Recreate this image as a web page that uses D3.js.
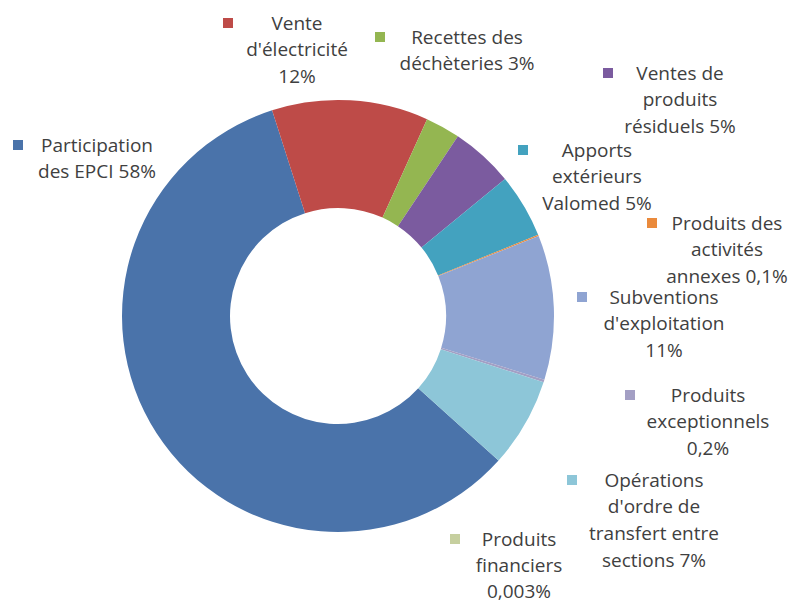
<!DOCTYPE html>
<html>
<head>
<meta charset="utf-8">
<script src="https://cdn.jsdelivr.net/npm/d3@7"></script>
<style>
  html, body { margin: 0; padding: 0; background: #ffffff; }
  svg { display: block; }
</style>
</head>
<body>
<svg id="chart" width="790" height="605"></svg>
<script>
// ---- Data (clockwise order, first slice = Participation des EPCI) ----
const categories = [
  "Participation des EPCI",
  "Vente d'électricité",
  "Recettes des déchèteries",
  "Ventes de produits résiduels",
  "Apports extérieurs Valomed",
  "Produits des activités annexes",
  "Subventions d'exploitation",
  "Produits exceptionnels",
  "Opérations d'ordre de transfert entre sections",
  "Produits financiers"
];
const values = [58.4, 11.7, 2.6, 4.7, 4.8, 0.1, 10.8, 0.2, 6.7, 0.003];
const percentLabels = ["58%", "12%", "3%", "5%", "5%", "0,1%", "11%", "0,2%", "7%", "0,003%"];
// label text broken into lines as in the reference (last line carries the percentage)
const labelLines = [
  ["Participation", "des EPCI " + percentLabels[0]],
  ["Vente", "d'électricité", percentLabels[1]],
  ["Recettes des", "déchèteries " + percentLabels[2]],
  ["Ventes de", "produits", "résiduels " + percentLabels[3]],
  ["Apports", "extérieurs", "Valomed " + percentLabels[4]],
  ["Produits des", "activités", "annexes " + percentLabels[5]],
  ["Subventions", "d'exploitation", percentLabels[6]],
  ["Produits", "exceptionnels", percentLabels[7]],
  ["Opérations", "d'ordre de", "transfert entre", "sections " + percentLabels[8]],
  ["Produits", "financiers", percentLabels[9]]
];
const colors = ["#4a73aa", "#be4b48", "#94b651", "#7b5b9f", "#43a2bf", "#ea8a3c",
                "#8fa4d2", "#a39fc4", "#8dc6d8", "#c6cf9f"];

// ---- Layout (label placement: text center x, first line y, legend key x) ----
const labelLayout = [
  {tx: 97,  ty: 145, kx: 18},
  {tx: 297, ty: 23,  kx: 228},
  {tx: 467, ty: 37,  kx: 380},
  {tx: 680, ty: 73,  kx: 608},
  {tx: 597, ty: 150, kx: 523},
  {tx: 727, ty: 223, kx: 652},
  {tx: 664, ty: 297, kx: 582},
  {tx: 708, ty: 395, kx: 630},
  {tx: 654, ty: 480, kx: 572},
  {tx: 519, ty: 539, kx: 455}
];

const cx = 338, cy = 316, outerR = 216, innerR = 108;
const startDeg = 132;
const lineH = 26.7;

const svg = d3.select("#chart");
const g = svg.append("g").attr("transform", `translate(${cx},${cy})`);

const pie = d3.pie()
  .sort(null)
  .value(d => d)
  .startAngle(startDeg * Math.PI / 180)
  .endAngle(startDeg * Math.PI / 180 + 2 * Math.PI);

const arc = d3.arc().innerRadius(innerR).outerRadius(outerR);

const color = d3.scaleOrdinal().domain(categories).range(colors);

g.selectAll("path.slice")
  .data(pie(values))
  .join("path")
  .attr("class", "slice")
  .attr("d", arc)
  .attr("fill", (d, i) => color(categories[i]));

// ---- Data labels with legend keys ----
const labels = svg.append("g")
  .attr("font-family", "'Open Sans', 'Noto Sans', sans-serif")
  .attr("font-size", 19)
  .attr("fill", "#404040");

categories.forEach((c, i) => {
  const L = labelLayout[i];
  const lh = i === 9 ? 26 : lineH;
  labels.append("rect")
    .attr("x", L.kx - 5)
    .attr("y", L.ty - 5)
    .attr("width", 10)
    .attr("height", 10)
    .attr("fill", color(c));
  const t = labels.append("text")
    .attr("text-anchor", "middle");
  labelLines[i].forEach((line, j) => {
    t.append("tspan")
      .attr("x", L.tx)
      .attr("y", L.ty + j * lh)
      .attr("dy", "0.35em")
      .text(line);
  });
});
</script>
</body>
</html>
